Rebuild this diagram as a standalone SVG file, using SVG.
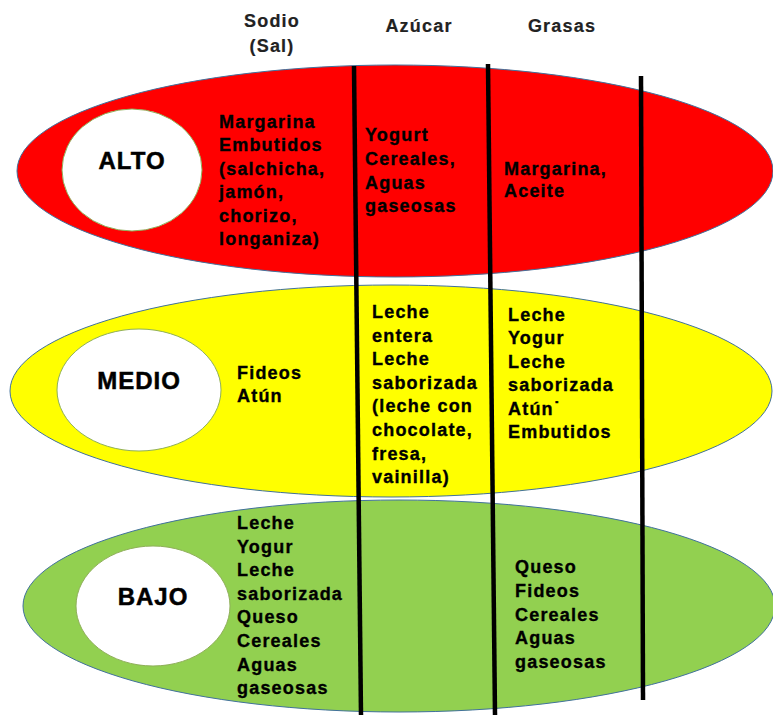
<svg xmlns="http://www.w3.org/2000/svg" width="773" height="715" viewBox="0 0 773 715">
<style>
.band{stroke:#41719C;stroke-width:1}
.circ{fill:#ffffff;stroke:#8FAF5A;stroke-width:1}
.lvl{font-family:"Liberation Sans",Arial,sans-serif;font-weight:bold;font-size:24px;letter-spacing:1px;fill:#000;stroke:#000;stroke-width:0.5;text-anchor:middle}
.t{font-family:"Liberation Sans",Arial,sans-serif;font-weight:bold;font-size:18px;letter-spacing:1.2px;fill:#000;stroke:#000;stroke-width:0.35}
.h{font-family:"Liberation Sans",Arial,sans-serif;font-weight:bold;font-size:18px;letter-spacing:1.2px;fill:#222;stroke:#222;stroke-width:0.2;text-anchor:middle}
.div{stroke:#000;stroke-width:4.5;fill:none}
</style>
<rect width="773" height="715" fill="#ffffff"/>
<g id="headers">
<text class="h" x="272" y="27">Sodio</text>
<text class="h" x="272" y="52">(Sal)</text>
<text class="h" x="419" y="32">Azúcar</text>
<text class="h" x="562" y="32">Grasas</text>
</g>
<g id="alto">
<ellipse class="band" cx="395" cy="171" rx="378" ry="106" fill="#FF0000"/>
<ellipse class="circ" cx="132" cy="170" rx="70" ry="61"/>
<text class="lvl" x="132" y="169">ALTO</text>
</g>
<g id="medio">
<ellipse class="band" cx="391" cy="391" rx="381" ry="106" fill="#FFFF00"/>
<ellipse class="circ" cx="139" cy="390" rx="82" ry="61"/>
<text class="lvl" x="139" y="389">MEDIO</text>
</g>
<g id="bajo">
<ellipse class="band" cx="399" cy="606" rx="376" ry="106" fill="#92D050"/>
<ellipse class="circ" cx="153" cy="606" rx="77" ry="60"/>
<text class="lvl" x="153" y="605">BAJO</text>
</g>
<g id="connectors">
<line class="div" x1="354" y1="66" x2="361" y2="715"/>
<line class="div" x1="488" y1="64" x2="495" y2="715"/>
<line class="div" x1="641" y1="76" x2="643" y2="700"/>
</g>
<g id="alto-sodio">
<text class="t" x="219" y="128">Margarina</text>
<text class="t" x="219" y="151.4">Embutidos</text>
<text class="t" x="219" y="174.8">(salchicha,</text>
<text class="t" x="219" y="198.2">jamón,</text>
<text class="t" x="219" y="221.6">chorizo,</text>
<text class="t" x="219" y="245">longaniza)</text>
</g>
<g id="alto-azucar">
<text class="t" x="365" y="141">Yogurt</text>
<text class="t" x="365" y="165">Cereales,</text>
<text class="t" x="365" y="189">Aguas</text>
<text class="t" x="365" y="212">gaseosas</text>
</g>
<g id="alto-grasas">
<text class="t" x="504" y="175">Margarina,</text>
<text class="t" x="504" y="197">Aceite</text>
</g>
<g id="medio-sodio">
<text class="t" x="237" y="379">Fideos</text>
<text class="t" x="237" y="402">Atún</text>
</g>
<g id="medio-azucar">
<text class="t" x="372" y="318">Leche</text>
<text class="t" x="372" y="341.6">entera</text>
<text class="t" x="372" y="365.2">Leche</text>
<text class="t" x="372" y="388.8">saborizada</text>
<text class="t" x="372" y="412.4">(leche con</text>
<text class="t" x="372" y="436">chocolate,</text>
<text class="t" x="372" y="459.6">fresa,</text>
<text class="t" x="372" y="483.2">vainilla)</text>
</g>
<g id="medio-grasas">
<text class="t" x="508" y="321">Leche</text>
<text class="t" x="508" y="344.4">Yogur</text>
<text class="t" x="508" y="367.8">Leche</text>
<text class="t" x="508" y="391.2">saborizada</text>
<text class="t" x="508" y="414.6">Atún˙</text>
<text class="t" x="508" y="438">Embutidos</text>
</g>
<g id="bajo-sodio">
<text class="t" x="237" y="529">Leche</text>
<text class="t" x="237" y="552.6">Yogur</text>
<text class="t" x="237" y="576.2">Leche</text>
<text class="t" x="237" y="599.8">saborizada</text>
<text class="t" x="237" y="623.4">Queso</text>
<text class="t" x="237" y="647">Cereales</text>
<text class="t" x="237" y="670.6">Aguas</text>
<text class="t" x="237" y="694.2">gaseosas</text>
</g>
<g id="bajo-grasas">
<text class="t" x="515" y="573">Queso</text>
<text class="t" x="515" y="596.8">Fideos</text>
<text class="t" x="515" y="620.6">Cereales</text>
<text class="t" x="515" y="644.4">Aguas</text>
<text class="t" x="515" y="668.2">gaseosas</text>
</g>
</svg>
